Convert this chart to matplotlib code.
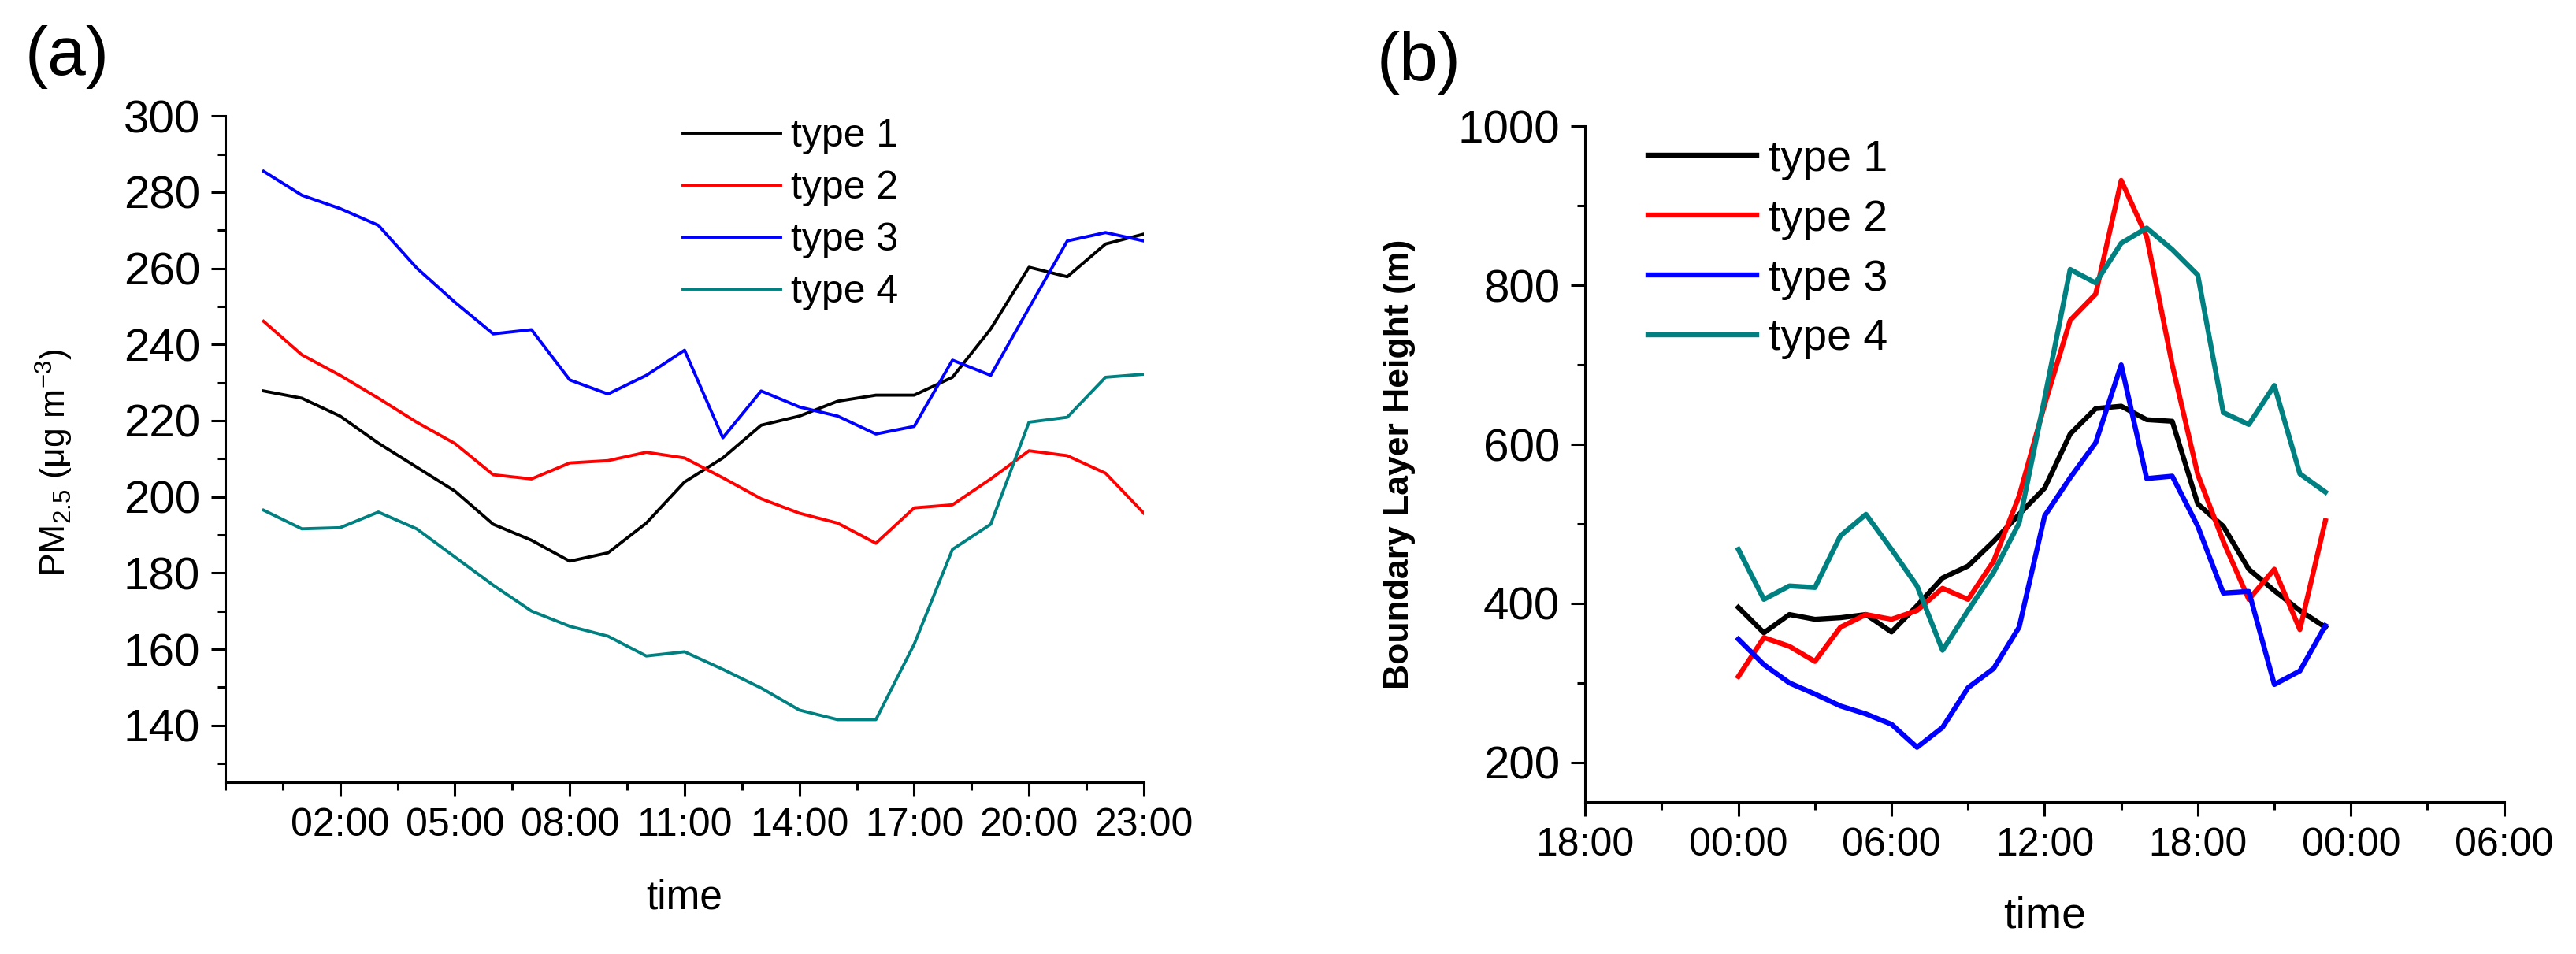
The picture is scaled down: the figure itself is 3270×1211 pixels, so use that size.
import matplotlib
matplotlib.use("Agg")
import matplotlib.pyplot as plt
from matplotlib.ticker import MultipleLocator, FixedLocator, FuncFormatter

plt.rcParams['font.family'] = 'Liberation Sans'
plt.rcParams['mathtext.fontset'] = 'custom'
plt.rcParams['mathtext.rm'] = 'Liberation Sans'
plt.rcParams['mathtext.it'] = 'Liberation Sans:italic'
plt.rcParams['mathtext.bf'] = 'Liberation Sans:bold'

# hourly values, hour 0..23
hours = list(range(24))
type_labels = ['type 1', 'type 2', 'type 3', 'type 4']
type_colors = ['#000000', '#ff0000', '#0000ff', '#008080']

# panel (a): PM2.5 (ug m-3)
pm_type1 = [227.8, 225.9, 221.2, 214.1, 207.8, 201.5, 192.8, 188.6, 183.1, 185.3, 193.1, 203.9,
            210.2, 218.8, 221.2, 225.1, 226.7, 226.7, 231.4, 244.1, 260.3, 257.8, 266.4, 269.0]
pm_type2 = [246.1, 237.3, 231.9, 225.9, 219.6, 214.0, 205.8, 204.7, 208.9, 209.5, 211.7, 210.2,
            205.0, 199.5, 195.7, 193.1, 187.8, 197.1, 197.9, 204.7, 212.1, 210.8, 206.2, 195.7]
pm_type3 = [285.5, 279.2, 275.7, 271.3, 260.1, 251.1, 242.8, 243.9, 230.7, 227.0, 231.9, 238.5,
            215.5, 227.8, 223.6, 221.2, 216.5, 218.5, 235.9, 231.9, 249.6, 267.2, 269.4, 267.2]
pm_type4 = [196.5, 191.6, 191.9, 196.0, 191.6, 184.2, 176.8, 170.0, 166.0, 163.4, 158.2, 159.3,
            154.7, 149.8, 144.0, 141.5, 141.5, 161.3, 186.2, 192.8, 219.6, 220.9, 231.4, 232.2]

# panel (b): boundary layer height (m)
blh_type1 = [395, 363, 386, 380, 382, 386, 364, 397, 432, 447, 478, 512,
             545, 613, 645, 648, 631, 629, 525, 497, 443, 416, 391, 370]
blh_type2 = [308, 357, 346, 327, 370, 386, 380, 391, 419, 405, 453, 535,
             650, 756, 789, 932, 861, 700, 562, 478, 405, 443, 367, 504]
blh_type3 = [355, 323, 300, 286, 271, 261, 248, 219, 244, 294, 318, 370,
             510, 558, 602, 700, 557, 560, 497, 413, 415, 298, 315, 372]
blh_type4 = [468, 405, 422, 420, 485, 512, 468, 422, 341, 391, 439, 501,
             658, 820, 803, 853, 872, 845, 813, 640, 625, 674, 563, 540]

pm_series = [pm_type1, pm_type2, pm_type3, pm_type4]
blh_series = [blh_type1, blh_type2, blh_type3, blh_type4]


def hhmm(x, pos):
    return f"{int(round(x)) % 24:02d}:00"


def style_axis(ax):
    for side in ['top', 'right']:
        ax.spines[side].set_visible(False)
    for side in ['left', 'bottom']:
        ax.spines[side].set_linewidth(2.2)
    ax.tick_params(which='major', direction='out', length=13, width=2.2)
    ax.tick_params(which='minor', direction='out', length=7, width=2.2)
    ax.tick_params(axis='x', which='major', labelsize=36, pad=10)
    ax.tick_params(axis='y', which='major', labelsize=42, pad=10)
    ax.xaxis.set_major_formatter(FuncFormatter(hhmm))


fig = plt.figure(figsize=(32.7, 12.11), dpi=100)

# ---- panel (a)
ax1 = fig.add_axes([0.08746, 0.17985, 0.35657, 0.69852])
for vals, lab, col in zip(pm_series, type_labels, type_colors):
    ax1.plot(hours, vals, color=col, lw=2.8, label=lab)
ax1.set_xlim(-1, 23)
ax1.set_ylim(125, 300)
ax1.xaxis.set_major_locator(FixedLocator([2, 5, 8, 11, 14, 17, 20, 23]))
ax1.xaxis.set_minor_locator(FixedLocator([-1 + 1.5 * k for k in range(17)]))
ax1.yaxis.set_major_locator(FixedLocator(list(range(140, 301, 20))))
ax1.yaxis.set_minor_locator(MultipleLocator(10))
style_axis(ax1)
ax1.set_ylabel(r'PM$_{2.5}$ ($\mathregular{\mu}$g m$^{-3}$)', fontsize=32)
ax1.yaxis.set_label_coords(-0.164, 0.48)
ax1.set_xlabel('time', fontsize=37)
ax1.xaxis.set_label_coords(0.5, -0.145)
ax1.legend(loc='upper left', bbox_to_anchor=(0.2651, 0.876), bbox_transform=fig.transFigure,
           frameon=False, fontsize=36, handlelength=2.48, handletextpad=0.26,
           labelspacing=0.40, borderpad=0, borderaxespad=0)

# ---- panel (b)
ax2 = fig.add_axes([0.61538, 0.15913, 0.35669, 0.70850])
for vals, lab, col in zip(blh_series, type_labels, type_colors):
    ax2.plot(hours, vals, color=col, lw=4.6, label=lab)
ax2.set_xlim(-6, 30)
ax2.set_ylim(150, 1000)
ax2.xaxis.set_major_locator(MultipleLocator(6))
ax2.xaxis.set_minor_locator(MultipleLocator(3))
ax2.yaxis.set_major_locator(FixedLocator([200, 400, 600, 800, 1000]))
ax2.yaxis.set_minor_locator(MultipleLocator(100))
style_axis(ax2)
ax2.set_ylabel('Boundary Layer Height (m)', fontsize=32, fontweight='bold')
ax2.yaxis.set_label_coords(-0.1846, 0.5)
ax2.set_xlabel('time', fontsize=40)
ax2.xaxis.set_label_coords(0.5, -0.1395)
ax2.legend(loc='upper left', bbox_to_anchor=(0.6398, 0.854), bbox_transform=fig.transFigure,
           frameon=False, fontsize=40, handlelength=2.49, handletextpad=0.27,
           labelspacing=0.43, borderpad=0, borderaxespad=0)

# panel letters
fig.text(0.0098, 1 - 95 / 1211, '(a)', fontsize=63, va='baseline', ha='left')
fig.text(0.5343, 1 - 102 / 1211, '(b)', fontsize=63, va='baseline', ha='left')

fig.savefig('out.png', dpi=100)
